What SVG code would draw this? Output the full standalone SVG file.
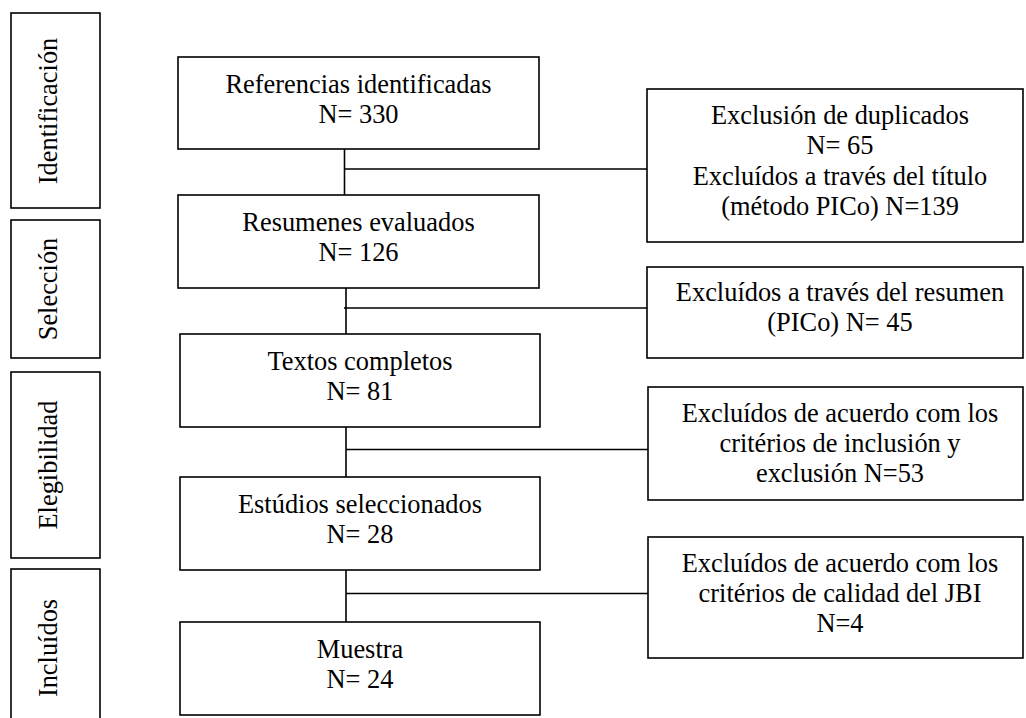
<svg xmlns="http://www.w3.org/2000/svg" width="1026" height="718" viewBox="0 0 1026 718">
<style>
.box{fill:#fff;stroke:#000;stroke-width:1.6}
.t{font-family:"Liberation Serif","Times New Roman",serif;font-size:26.4px;fill:#000;text-anchor:middle}
.c{stroke:#000;stroke-width:1.6;fill:none}
</style>
<rect width="1026" height="718" fill="#fff"/>
<g id="stage-identificacion">
<rect class="box" x="11" y="13" width="89" height="195"/>
<text class="t" transform="translate(57,111) rotate(-90)">Identificación</text>
</g>
<g id="stage-seleccion">
<rect class="box" x="11" y="220" width="89" height="138"/>
<text class="t" transform="translate(57,289) rotate(-90)">Selección</text>
</g>
<g id="stage-elegibilidad">
<rect class="box" x="11" y="372" width="89" height="186"/>
<text class="t" transform="translate(57,465) rotate(-90)">Elegibilidad</text>
</g>
<g id="stage-incluidos">
<rect class="box" x="11" y="569" width="89" height="155"/>
<text class="t" transform="translate(57,648) rotate(-90)">Incluídos</text>
</g>
<g id="connectors">
<path class="c" d="M344.5 149V195M344.5 169H647"/>
<path class="c" d="M346 288V334M344 308H647"/>
<path class="c" d="M346 427V477M346 449.5H648"/>
<path class="c" d="M346 570V622M346 593.5H648"/>
</g>
<g id="n1">
<rect class="box" x="178" y="57" width="361" height="92"/>
<text class="t" x="358.5" y="93">Referencias identificadas</text>
<text class="t" x="358.5" y="123">N= 330</text>
</g>
<g id="n2">
<rect class="box" x="178" y="195" width="361" height="93"/>
<text class="t" x="358.5" y="231">Resumenes evaluados</text>
<text class="t" x="358.5" y="261">N= 126</text>
</g>
<g id="n3">
<rect class="box" x="180" y="334" width="360" height="93"/>
<text class="t" x="360" y="370">Textos completos</text>
<text class="t" x="360" y="400">N= 81</text>
</g>
<g id="n4">
<rect class="box" x="180" y="477" width="360" height="93"/>
<text class="t" x="360" y="513">Estúdios seleccionados</text>
<text class="t" x="360" y="543">N= 28</text>
</g>
<g id="n5">
<rect class="box" x="180" y="622" width="360" height="93"/>
<text class="t" x="360" y="658">Muestra</text>
<text class="t" x="360" y="688">N= 24</text>
</g>
<g id="x1">
<rect class="box" x="647" y="89" width="376" height="153"/>
<text class="t" x="840" y="124">Exclusión de duplicados</text>
<text class="t" x="840" y="154">N= 65</text>
<text class="t" x="840" y="185">Excluídos a través del título</text>
<text class="t" x="840" y="215">(método PICo) N=139</text>
</g>
<g id="x2">
<rect class="box" x="647" y="267" width="376" height="91"/>
<text class="t" x="840" y="301">Excluídos a través del resumen</text>
<text class="t" x="840" y="331">(PICo) N= 45</text>
</g>
<g id="x3">
<rect class="box" x="648" y="387" width="375" height="113"/>
<text class="t" x="840" y="422">Excluídos de acuerdo com los</text>
<text class="t" x="840" y="452">critérios de inclusión y</text>
<text class="t" x="840" y="482">exclusión N=53</text>
</g>
<g id="x4">
<rect class="box" x="648" y="537" width="375" height="121"/>
<text class="t" x="840" y="572">Excluídos de acuerdo com los</text>
<text class="t" x="840" y="602">critérios de calidad del JBI</text>
<text class="t" x="840" y="632">N=4</text>
</g>
</svg>
